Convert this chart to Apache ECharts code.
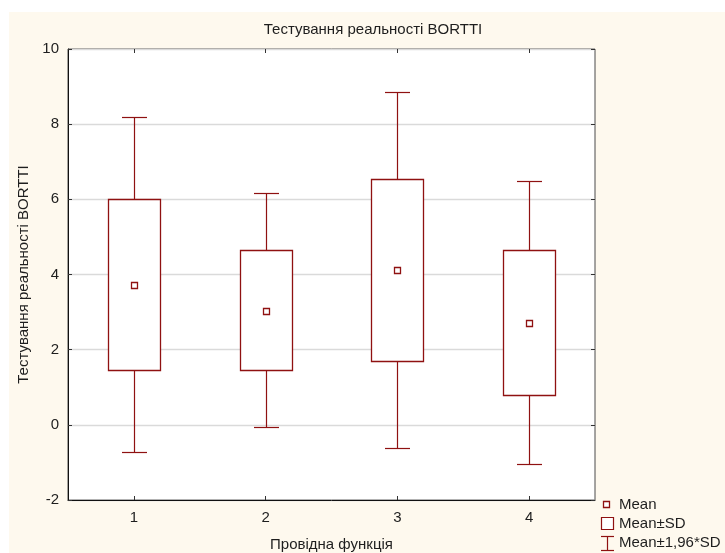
<!DOCTYPE html>
<html>
<head>
<meta charset="utf-8">
<script src="https://cdn.jsdelivr.net/npm/echarts@6/dist/echarts.min.js"></script>
<style>
  html, body { margin: 0; padding: 0; background: #ffffff; }
  #panel { position: absolute; left: 9px; top: 12px; right: 0; bottom: 0; background: #fef9ee; }
  #chart { position: absolute; left: 0; top: 0; width: 725px; height: 553px; }
</style>
</head>
<body>
<div id="panel"></div>
<div id="chart"></div>
<script>
// Leading function groups and the test score summaries per group
const categories = ['1', '2', '3', '4'];
const means  = [3.72, 3.04, 4.11, 2.71];
const sdLow  = [1.46, 1.46, 1.69, 0.80];
const sdHigh = [6.01, 4.65, 6.55, 4.65];
const ciLow  = [-0.71, -0.05, -0.62, -1.04];
const ciHigh = [8.18, 6.16, 8.86, 6.50];

const yMin = -2, yMax = 10, yStep = 2;

const titleText = 'Тестування реальності BORTTI';
const xName = 'Провідна функція';
const legendLabels = ['Mean', 'Mean±SD', 'Mean±1,96*SD'];

const RED = '#8f1111';
const FONT = '"Liberation Sans", Arial, sans-serif';
const TXT = '#1e1e1e';
const FS = 15;

const seriesData = categories.map((c, i) => [i, means[i], sdLow[i], sdHigh[i], ciLow[i], ciHigh[i]]);

const snap = v => Math.round(v) + 0.5;

function renderItem(params, api) {
  const idx = api.value(0);
  const x = snap(api.coord([idx, 0])[0]);
  const y = v => snap(api.coord([idx, v])[1]);
  const yMean = y(api.value(1));
  const yLo = y(api.value(2));
  const yHi = y(api.value(3));
  const yCiLo = y(api.value(4));
  const yCiHi = y(api.value(5));
  const boxHalf = 26, capHalf = 12.5;
  const lineStyle = { stroke: RED, lineWidth: 1.2, fill: null };
  return {
    type: 'group',
    children: [
      { type: 'line', shape: { x1: x, y1: yCiHi, x2: x, y2: yHi }, style: lineStyle },
      { type: 'line', shape: { x1: x, y1: yLo, x2: x, y2: yCiLo }, style: lineStyle },
      { type: 'line', shape: { x1: x - capHalf, y1: yCiHi, x2: x + capHalf, y2: yCiHi }, style: lineStyle },
      { type: 'line', shape: { x1: x - capHalf, y1: yCiLo, x2: x + capHalf, y2: yCiLo }, style: lineStyle },
      { type: 'rect', shape: { x: x - boxHalf, y: yHi, width: boxHalf * 2, height: yLo - yHi },
        style: { stroke: RED, lineWidth: 1.3, fill: '#ffffff' } },
      { type: 'rect', shape: { x: x - 3, y: yMean - 3, width: 6, height: 6 },
        style: { stroke: RED, lineWidth: 1.3, fill: '#ffffff' } }
    ]
  };
}

const chart = echarts.init(document.getElementById('chart'), null, { renderer: 'canvas' });

const tickStyle = { show: true, inside: true, length: 4, lineStyle: { color: '#333', width: 1 } };

chart.setOption({
  backgroundColor: 'transparent',
  animation: false,
  grid: {
    left: 68, right: 130, top: 49, bottom: 53,
    outerBoundsMode: 'none', containLabel: false,
    show: true, backgroundColor: '#ffffff', borderColor: '#4a4a4a', borderWidth: 1
  },
  xAxis: [
    {
      type: 'category', data: categories, boundaryGap: true, position: 'bottom',
      axisLine: { show: true, onZero: false, lineStyle: { color: '#111', width: 1 } },
      axisTick: Object.assign({ alignWithLabel: true }, tickStyle),
      axisLabel: { fontFamily: FONT, fontSize: FS, color: TXT, margin: 10 },
      name: xName, nameLocation: 'middle', nameGap: 37,
      nameTextStyle: { fontFamily: FONT, fontSize: FS, color: TXT },
      splitLine: { show: false }
    },
    {
      type: 'category', data: categories, boundaryGap: true, position: 'top',
      axisLine: { show: false, onZero: false },
      axisTick: Object.assign({ alignWithLabel: true }, tickStyle),
      axisLabel: { show: false }, splitLine: { show: false }
    }
  ],
  yAxis: [
    {
      type: 'value', min: yMin, max: yMax, interval: yStep, position: 'left',
      axisLine: { show: true, onZero: false, lineStyle: { color: '#111', width: 1 } },
      axisTick: tickStyle,
      axisLabel: { fontFamily: FONT, fontSize: FS, color: TXT, margin: 9 },
      name: titleText, nameLocation: 'middle', nameGap: 36, nameRotate: 90,
      nameTextStyle: { fontFamily: FONT, fontSize: FS, color: TXT },
      splitLine: {
        show: true,
        lineStyle: { color: '#dadada', width: 1.3 }
      }
    },
    {
      type: 'value', min: yMin, max: yMax, interval: yStep, position: 'right',
      axisLine: { show: false, onZero: false }, axisTick: tickStyle,
      axisLabel: { show: false }, splitLine: { show: false }
    }
  ],
  graphic: [
    { type: 'text', x: 373, y: 30,
      style: { text: titleText, font: FS + 'px ' + FONT, fill: TXT, align: 'center', verticalAlign: 'middle' } },
    // legend entries
    { type: 'rect', shape: { x: 603.5, y: 501.5, width: 6, height: 6 },
      style: { stroke: RED, lineWidth: 1.3, fill: '#ffffff' } },
    { type: 'text', x: 619, y: 505, style: { text: legendLabels[0], font: FS + 'px ' + FONT, fill: TXT, verticalAlign: 'middle' } },
    { type: 'rect', shape: { x: 601.5, y: 517.5, width: 12, height: 12 },
      style: { stroke: RED, lineWidth: 1.2, fill: '#ffffff' } },
    { type: 'text', x: 619, y: 524, style: { text: legendLabels[1], font: FS + 'px ' + FONT, fill: TXT, verticalAlign: 'middle' } },
    { type: 'polyline', shape: { points: [[601, 536.5], [614, 536.5]] }, style: { stroke: RED, lineWidth: 1.2 } },
    { type: 'polyline', shape: { points: [[607.5, 536.5], [607.5, 550.5]] }, style: { stroke: RED, lineWidth: 1.2 } },
    { type: 'polyline', shape: { points: [[601, 550.5], [614, 550.5]] }, style: { stroke: RED, lineWidth: 1.2 } },
    { type: 'text', x: 619, y: 543, style: { text: legendLabels[2], font: FS + 'px ' + FONT, fill: TXT, verticalAlign: 'middle' } }
  ],
  series: [{
    type: 'custom',
    renderItem: renderItem,
    data: seriesData,
    clip: false,
    encode: { x: 0, y: [1, 2, 3, 4, 5] }
  }]
});
</script>
</body>
</html>
